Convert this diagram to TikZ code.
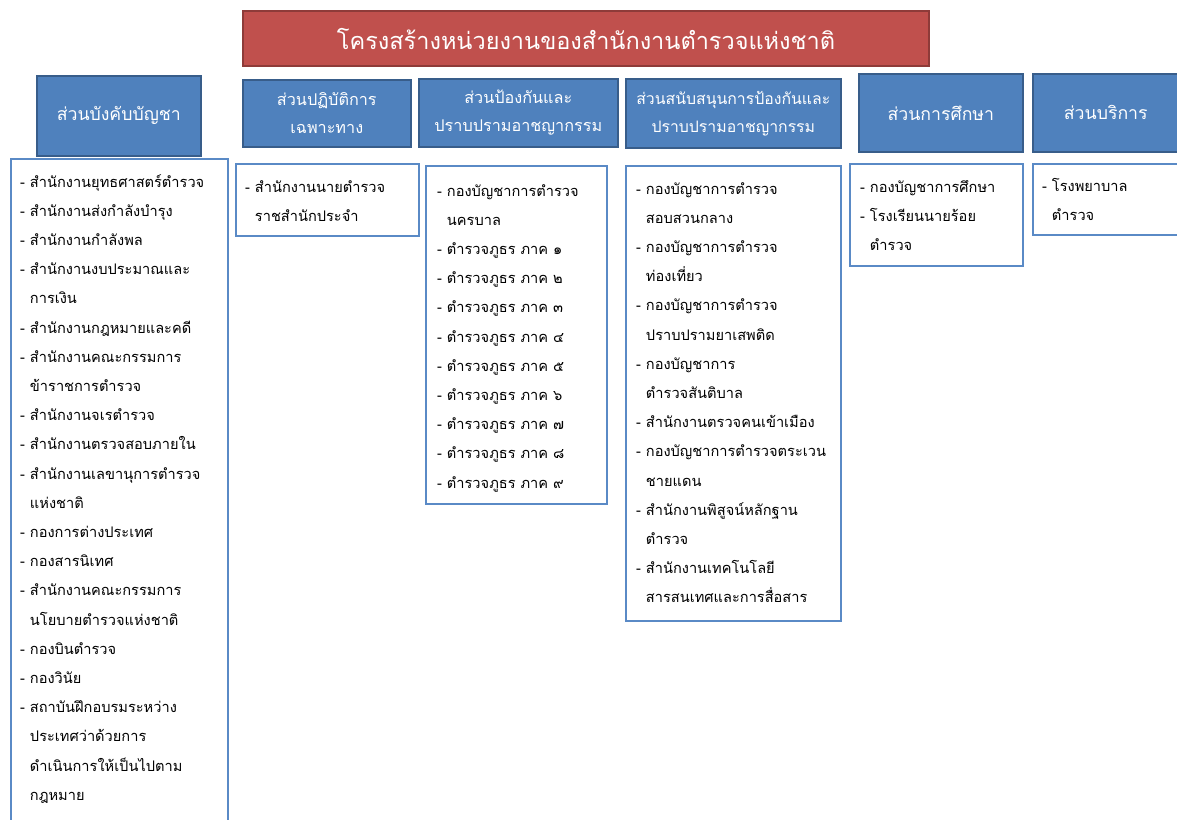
\documentclass[tikz,border=0pt]{standalone}
\usepackage{fontspec}
\newfontfamily\thaifont[Script=Thai]{Loma}
\usetikzlibrary{positioning}
\definecolor{titlered}{HTML}{C0504D}
\definecolor{titleedge}{HTML}{8E3B39}
\definecolor{headblue}{HTML}{4F81BD}
\definecolor{headedge}{HTML}{385D8A}
\definecolor{listedge}{HTML}{5A8AC6}
\newcommand{\nxt}{\\\phantom{- }}

\begin{document}
\begin{tikzpicture}[x=1pt,y=1pt]
\tikzstyle{every node}+=[inner sep=0pt, font=\thaifont]
\tikzstyle{titlebox}=[draw=titleedge, line width=2pt, fill=titlered, anchor=north west, text=white, font=\thaifont\fontsize{23.5}{26}\selectfont]
\tikzstyle{headbox}=[draw=headedge, line width=1.6pt, fill=headblue, anchor=north west, text=white, align=center, font=\thaifont\fontsize{16.2}{28}\selectfont]
\tikzstyle{listbox}=[draw=listedge, line width=1.8pt, fill=white, anchor=north west]
\tikzstyle{listtext}=[align=left, font=\thaifont\fontsize{14.6}{29.2}\selectfont]
\useasboundingbox (0,0) rectangle (1177,-819);

% title
\node [titlebox, minimum width=686, minimum height=55] (title) at (242,-10) {โครงสร้างหน่วยงานของสำนักงานตำรวจแห่งชาติ};

% section heads
\node [headbox, minimum width=164, minimum height=80, font=\thaifont\fontsize{17.7}{28}\selectfont] (cmd) at (36,-75) {ส่วนบังคับบัญชา};
\node [headbox, minimum width=168, minimum height=67] (spec) at (242,-79) {ส่วนปฏิบัติการ\\เฉพาะทาง};
\node [headbox, minimum width=199, minimum height=68] (prev) at (418,-78) {ส่วนป้องกันและ\\ปราบปรามอาชญากรรม};
\node [headbox, minimum width=215, minimum height=69, font=\thaifont\fontsize{15.8}{28}\selectfont] (supp) at (625,-78) {ส่วนสนับสนุนการป้องกันและ\\ปราบปรามอาชญากรรม};
\node [headbox, minimum width=164, minimum height=78, font=\thaifont\fontsize{17.7}{28}\selectfont] (edu) at (858,-73) {ส่วนการศึกษา};
\node [headbox, minimum width=160, minimum height=78, font=\thaifont\fontsize{17.7}{28}\selectfont] (serv) at (1032,-73) {\hspace*{-14pt}ส่วนบริการ};

% list boxes
\node [listbox, minimum width=217, minimum height=680] (cmdBox) at (10,-158) {};
\node [listbox, minimum width=183, minimum height=72] (specBox) at (235,-163) {};
\node [listbox, minimum width=181, minimum height=338] (prevBox) at (425,-165) {};
\node [listbox, minimum width=215, minimum height=455] (suppBox) at (625,-165) {};
\node [listbox, minimum width=173, minimum height=102] (eduBox) at (849,-163) {};
\node [listbox, minimum width=160, minimum height=71] (servBox) at (1032,-163) {};

% list texts
\node [listtext, below right=16 and 10 of cmdBox.north west] (cmdList) {- สำนักงานยุทธศาสตร์ตำรวจ\\- สำนักงานส่งกำลังบำรุง\\- สำนักงานกำลังพล\\- สำนักงานงบประมาณและ\nxt การเงิน\\- สำนักงานกฎหมายและคดี\\- สำนักงานคณะกรรมการ\nxt ข้าราชการตำรวจ\\- สำนักงานจเรตำรวจ\\- สำนักงานตรวจสอบภายใน\\- สำนักงานเลขานุการตำรวจ\nxt แห่งชาติ\\- กองการต่างประเทศ\\- กองสารนิเทศ\\- สำนักงานคณะกรรมการ\nxt นโยบายตำรวจแห่งชาติ\\- กองบินตำรวจ\\- กองวินัย\\- สถาบันฝึกอบรมระหว่าง\nxt ประเทศว่าด้วยการ\nxt ดำเนินการให้เป็นไปตาม\nxt กฎหมาย};
\node [listtext, below right=17 and 10 of specBox.north west] (specList) {- สำนักงานนายตำรวจ\nxt ราชสำนักประจำ};
\node [listtext, below right=19 and 12 of prevBox.north west] (prevList) {- กองบัญชาการตำรวจ\nxt นครบาล\\- ตำรวจภูธร ภาค ๑\\- ตำรวจภูธร ภาค ๒\\- ตำรวจภูธร ภาค ๓\\- ตำรวจภูธร ภาค ๔\\- ตำรวจภูธร ภาค ๕\\- ตำรวจภูธร ภาค ๖\\- ตำรวจภูธร ภาค ๗\\- ตำรวจภูธร ภาค ๘\\- ตำรวจภูธร ภาค ๙};
\node [listtext, below right=17 and 11 of suppBox.north west] (suppList) {- กองบัญชาการตำรวจ\nxt สอบสวนกลาง\\- กองบัญชาการตำรวจ\nxt ท่องเที่ยว\\- กองบัญชาการตำรวจ\nxt ปราบปรามยาเสพติด\\- กองบัญชาการ\nxt ตำรวจสันติบาล\\- สำนักงานตรวจคนเข้าเมือง\\- กองบัญชาการตำรวจตระเวน\nxt ชายแดน\\- สำนักงานพิสูจน์หลักฐาน\nxt ตำรวจ\\- สำนักงานเทคโนโลยี\nxt สารสนเทศและการสื่อสาร};
\node [listtext, below right=17 and 11 of eduBox.north west] (eduList) {- กองบัญชาการศึกษา\\- โรงเรียนนายร้อย\nxt ตำรวจ};
\node [listtext, below right=15 and 10 of servBox.north west] (servList) {- โรงพยาบาล\nxt ตำรวจ};
\end{tikzpicture}
\end{document}
